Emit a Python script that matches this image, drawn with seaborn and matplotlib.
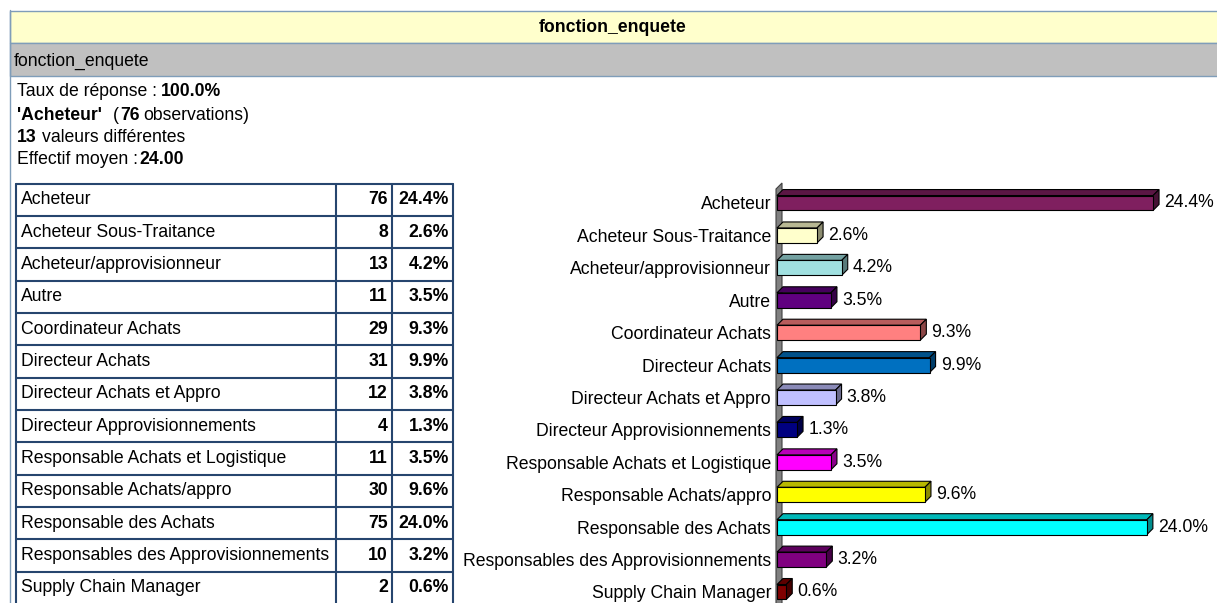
import numpy as np
import pandas as pd
import matplotlib.pyplot as plt
import seaborn as sns
from matplotlib.patches import Polygon, Rectangle
from matplotlib.colors import to_rgb

# données
fonctions = ['Acheteur', 'Acheteur Sous-Traitance', 'Acheteur/approvisionneur', 'Autre',
             'Coordinateur Achats', 'Directeur Achats', 'Directeur Achats et Appro',
             'Directeur Approvisionnements', 'Responsable Achats et Logistique',
             'Responsable Achats/appro', 'Responsable des Achats',
             'Responsables des Approvisionnements', 'Supply Chain Manager']
effectifs = [76, 8, 13, 11, 29, 31, 12, 4, 11, 30, 75, 10, 2]
pourcentages = [24.4, 2.6, 4.2, 3.5, 9.3, 9.9, 3.8, 1.3, 3.5, 9.6, 24.0, 3.2, 0.6]
couleurs = ['#7F1F5F', '#FFFFCC', '#A0E0E0', '#600080', '#FF8080', '#0070C0', '#C0C0FF',
            '#000080', '#FF00FF', '#FFFF00', '#00FFFF', '#800080', '#800000']

df = pd.DataFrame({'fonction': fonctions, 'effectif': effectifs, 'pct': pourcentages})

sns.set_style('white')
plt.rcParams['font.family'] = ['Liberation Sans', 'DejaVu Sans']
plt.rcParams['text.color'] = 'black'
plt.rcParams['ytick.color'] = 'black'
plt.rcParams['ytick.labelcolor'] = 'black'
FS = 12.7

W, H = 1217, 603
fig = plt.figure(figsize=(W / 100, H / 100), dpi=100)

# fond en coordonnées pixels
bg = fig.add_axes([0, 0, 1, 1])
bg.set_xlim(0, W)
bg.set_ylim(H, 0)
bg.axis('off')

bord = '#7F9DB9'
bg.add_patch(Rectangle((9.5, 10.5), W, 32, facecolor='#FFFFCC', edgecolor=bord, lw=1))
bg.add_patch(Rectangle((9.5, 42.5), W, 33, facecolor='#C0C0C0', edgecolor=bord, lw=1))
bg.plot([9.5, 9.5], [10, H], color=bord, lw=1)
bg.text(613, 27, 'fonction_enquete', ha='center', va='center', fontsize=FS, fontweight='bold')
bg.text(14, 61, 'fonction_enquete', ha='left', va='center', fontsize=FS)

renderer = fig.canvas.get_renderer()


def ligne(x, y, morceaux):
    # morceaux : (texte, gras, espace en pixels après)
    for txt, gras, gap in morceaux:
        t = bg.text(x, y, txt, ha='left', va='center', fontsize=FS,
                    fontweight='bold' if gras else 'normal')
        x += t.get_window_extent(renderer).width + gap


total = sum(effectifs)
i_max = int(np.argmax(effectifs))
ligne(17, 92, [('Taux de réponse :', False, 4), ('100.0%', True, 0)])
ligne(17, 115, [(f"'{fonctions[i_max]}'", True, 11), ('(', False, 1), (str(effectifs[i_max]), True, 4),
                ('observations)', False, 0)])
ligne(17, 137, [(str(len(fonctions)), True, 5), ('valeurs différentes', False, 0)])
ligne(17, 159, [('Effectif moyen :', False, 1), (f'{total / len(fonctions):.2f}', True, 0)])

# tableau
cadre = '#26456E'
y0, hrow = 183.5, 32.35
xs = [15.5, 336, 392, 453]
n = len(fonctions)
for k in range(n + 1):
    bg.plot([xs[0], xs[-1]], [y0 + k * hrow] * 2, color=cadre, lw=1.5)
for x in xs:
    bg.plot([x, x], [y0, y0 + n * hrow], color=cadre, lw=1.5)
for k, (f, e, p) in enumerate(zip(fonctions, effectifs, pourcentages)):
    yc = y0 + (k + 0.5) * hrow
    bg.text(21, yc, f, ha='left', va='center', fontsize=FS)
    bg.text(388, yc, str(e), ha='right', va='center', fontsize=FS, fontweight='bold')
    bg.text(449, yc, f'{p:.1f}%', ha='right', va='center', fontsize=FS, fontweight='bold')

# graphique en barres
ax = fig.add_axes([777 / W, 0, (W - 777) / W, (603 - 183) / H])
ax.patch.set_visible(False)
sns.barplot(data=df, x='pct', y='fonction', hue='fonction', palette=couleurs, width=0.46,
            saturation=1, edgecolor='black', linewidth=0.8, legend=False, ax=ax, orient='h')
ax.set_xlim(0, 28.55)
ax.set_ylim(12.34, -0.617)
sns.despine(ax=ax, left=True, bottom=True)
ax.set_xticks([])
ax.set_xlabel('')
ax.set_ylabel('')
ax.tick_params(axis='y', length=0, pad=4.3, labelsize=FS, labelcolor='black')

# mur gris
d = 6
bg.add_patch(Polygon([(776, H + 5), (776, 189), (776 + d, 189 - d), (776 + d, H + 5)],
                     closed=True, facecolor='#808080', edgecolor='#404040', lw=0.8, zorder=1))

# faces 3D des barres
for bar in ax.patches:
    x0, yb = bar.get_x(), bar.get_y()
    w, h = bar.get_width(), bar.get_height()
    (px0, py_a), (px1, py_b) = ax.transData.transform([(x0, yb), (x0 + w, yb + h)])
    yt, ybt = H - max(py_a, py_b), H - min(py_a, py_b)
    c = np.array(to_rgb(bar.get_facecolor()))
    bg.add_patch(Polygon([(px0, yt), (px0 + d, yt - d), (px1 + d, yt - d), (px1, yt)],
                         closed=True, facecolor=c * 0.72, edgecolor='black', lw=0.8, zorder=2))
    bg.add_patch(Polygon([(px1, yt), (px1 + d, yt - d), (px1 + d, ybt - d), (px1, ybt)],
                         closed=True, facecolor=c * 0.55, edgecolor='black', lw=0.8, zorder=2))

for cont, p in zip(ax.containers, pourcentages):
    ax.bar_label(cont, labels=[f'{p:.1f}%'], padding=8, fontsize=FS, color='black')

fig.savefig('out.png', dpi=100)
